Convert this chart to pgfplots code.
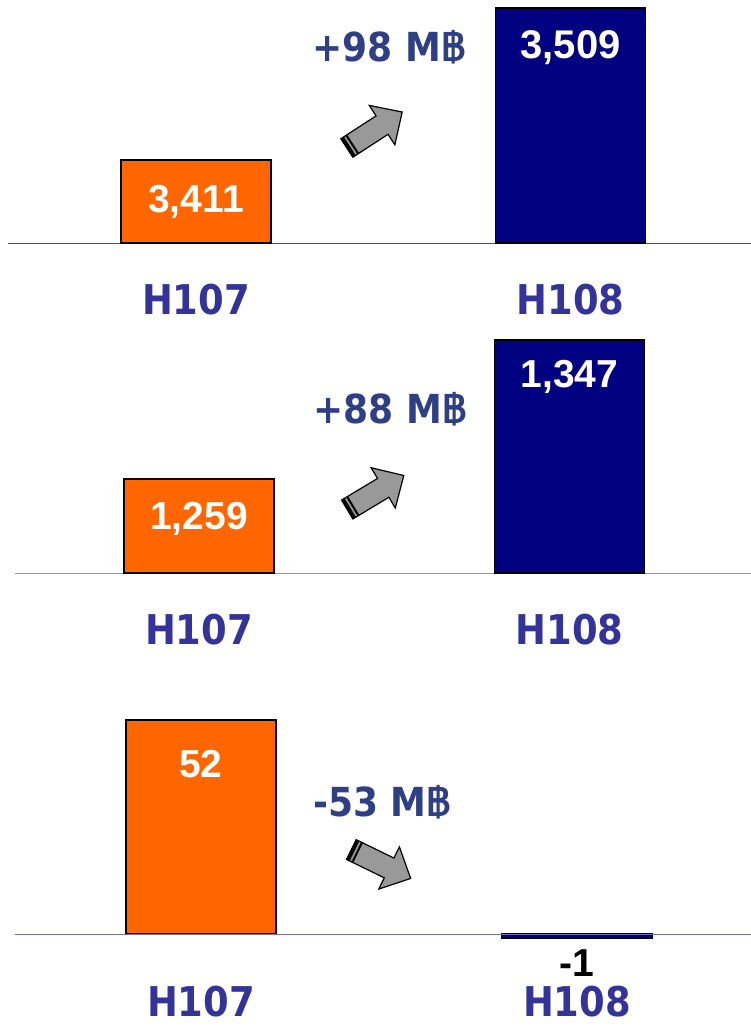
\documentclass[border=0pt]{standalone}
\usepackage{fontspec}
\usepackage{pgfplots}
\pgfplotsset{compat=1.18}
\newfontfamily\labfont{DejaVu Sans}[FakeStretch=0.9]
\newfontfamily\numfont{Liberation Sans}
\newfontfamily\thaifont[Script=Thai]{Loma}
\definecolor{orng}{HTML}{FF6600}
\definecolor{navyb}{HTML}{000080}
\definecolor{labcol}{HTML}{333399}
\definecolor{delcol}{HTML}{2F3F85}
\definecolor{arrgray}{HTML}{999999}
\pgfplotsset{
  panel/.style={
    scale only axis, ybar, bar width=150,
    xmax=751, ytick=\empty,
    major tick length=0pt, tick style={draw=none},
    xticklabel style={anchor=center, inner sep=0pt, font=\labfont\bfseries\fontsize{41}{41}\selectfont, text=labcol},
  },
  orbar/.style={fill=orng, draw=black, line width=1.6pt, bar shift=0pt,
    nodes near coords, point meta=explicit symbolic},
  blbar/.style={fill=navyb, draw=black, line width=1.6pt, bar shift=0pt,
    nodes near coords, point meta=explicit symbolic},
}
\newcommand{\arr}[3]{%
  \begin{scope}[shift={(#1pt,-#2pt)}, rotate=#3]
    \filldraw[fill=arrgray, draw=black, line width=1.2pt]
      (-33pt,-11pt) -- (9pt,-11pt) -- (9pt,-23.5pt) -- (33pt,0pt) -- (9pt,23.5pt) -- (9pt,11pt) -- (-33pt,11pt) -- cycle;
    \fill[black] (-33pt,-11pt) rectangle (-29.5pt,11pt);
    \fill[black] (-27.5pt,-11pt) rectangle (-25.5pt,11pt);
  \end{scope}}
\newcommand{\baht}{{\thaifont\bfseries ฿}}
\begin{document}
\begin{tikzpicture}
\useasboundingbox (0,0) rectangle (751pt,-1029pt);
% Panel 1
\begin{axis}[panel, at={(8pt,-243pt)}, anchor=south west,
  width=743pt, height=243pt, xmin=8, ymin=3357.5, ymax=3514.17,
  axis x line*=bottom, axis y line=none, axis line style={draw=labcol!90, line width=1pt},
  xtick={196,570.5}, xticklabels={H107,H108},
  xticklabel style={yshift=-57pt}]
\addplot[orbar, every node near coord/.append style={anchor=center, yshift=-42pt, text=white, font=\numfont\bfseries\fontsize{39}{39}\selectfont}]
  coordinates {(196,3411) [3,411]};
\addplot[blbar, every node near coord/.append style={anchor=center, yshift=-40pt, text=white, font=\numfont\bfseries\fontsize{40}{40}\selectfont}]
  coordinates {(570.5,3509) [3,509]};
\end{axis}
% Panel 2
\begin{axis}[panel, at={(15pt,-573pt)}, anchor=south west,
  width=736pt, height=243pt, xmin=15, ymin=1199.5, ymax=1353.35,
  axis x line*=bottom, axis y line=none, axis line style={draw=labcol!55, line width=1pt},
  xtick={199,569.5}, xticklabels={H107,H108},
  xticklabel style={yshift=-57pt}]
\addplot[orbar, every node near coord/.append style={anchor=center, yshift=-40pt, text=white, font=\numfont\bfseries\fontsize{39}{39}\selectfont}]
  coordinates {(199,1259) [1,259]};
\addplot[blbar, every node near coord/.append style={anchor=center, yshift=-37pt, text=white, font=\numfont\bfseries\fontsize{39}{39}\selectfont}]
  coordinates {(569.5,1347) [1,347]};
\end{axis}
% Panel 3
\begin{axis}[panel, at={(15pt,-983.4pt)}, anchor=south west,
  width=736pt, height=283.4pt, xmin=15, ymin=-12, ymax=56.87,
  axis x line*=bottom, axis y line=none, x axis line style={draw=none},
  xtick={201,577}, xticklabels={H107,H108},
  xticklabel style={yshift=-18pt}]
\addplot[orbar, every node near coord/.append style={anchor=center, yshift=-44pt, text=white, font=\numfont\bfseries\fontsize{39}{39}\selectfont}]
  coordinates {(201,52) [52]};
\addplot[blbar, line width=2.2pt, every node near coord/.append style={anchor=center, yshift=-25pt, text=black, font=\numfont\bfseries\fontsize{39}{39}\selectfont}]
  coordinates {(577,-1) [-1]};
\draw[labcol!70, line width=1pt] (axis cs:15,0) -- (axis cs:751,0);
\end{axis}
% change labels and arrows
\node[text=delcol, font=\labfont\bfseries\fontsize{40}{40}\selectfont] at (389pt,-47pt) {+98 M\baht};
\node[text=delcol, font=\labfont\bfseries\fontsize{40}{40}\selectfont] at (390pt,-409pt) {+88 M\baht};
\node[text=delcol, font=\labfont\bfseries\fontsize{40}{40}\selectfont] at (382pt,-802pt) {-53 M\baht};
\arr{374.5}{130}{33}
\arr{375.5}{492.5}{31}
\arr{381}{864}{-26}
\end{tikzpicture}
\end{document}
